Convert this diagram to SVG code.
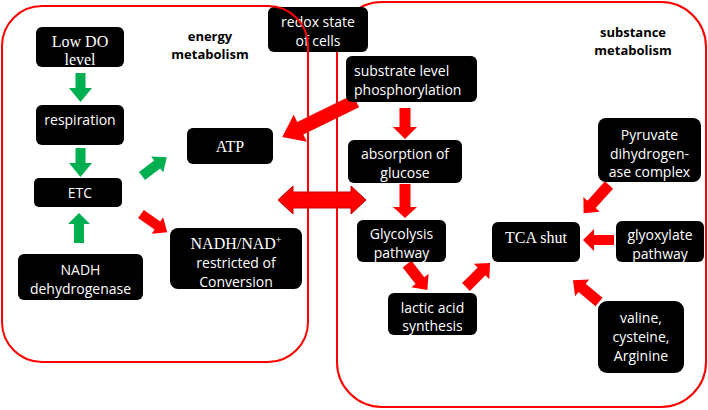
<svg xmlns="http://www.w3.org/2000/svg" width="708" height="410" viewBox="0 0 708 410">
<style>
.box{fill:#000}
.t{fill:#fff;font-family:"Open Sans","Noto Sans",sans-serif;font-size:14px;text-anchor:middle}
.s{fill:#fff;font-family:"Liberation Serif","Times New Roman",serif;font-size:16px;text-anchor:middle}
.lbl{fill:#000;font-family:"Open Sans","Noto Sans",sans-serif;font-size:13px;font-weight:bold;text-anchor:middle}
.cont{fill:none;stroke:#ff0000;stroke-width:2}
.g{fill:#00b050}
.r{fill:#ff0000}
</style>
<rect width="708" height="410" fill="#fff"/>
<g id="connectors">
<path class="g" transform="translate(80.5,73) rotate(90)" d="M0,-5H15V-11.5L29,0L15,11.5V5H0Z"/>
<path class="g" transform="translate(80.5,148) rotate(90)" d="M0,-5H15V-11.5L29,0L15,11.5V5H0Z"/>
<path class="g" transform="translate(79,243) rotate(-90)" d="M0,-5H19V-11L30,0L19,11V5H0Z"/>
<path class="g" transform="translate(142,176) rotate(-37)" d="M0,-5H19V-10L31,0L19,10V5H0Z"/>
<path class="r" transform="translate(141,214) rotate(35)" d="M0,-5H20V-10L32,0L20,10V5H0Z"/>
<path class="r" transform="translate(356,101) rotate(154)" d="M0,-7H62V-15L82,0L62,15V7H0Z"/>
<path class="r" stroke="#c00000" stroke-width="1" d="M278,200L293,186V192H351V186L366,200L351,214V208H293V214Z"/>
<path class="r" transform="translate(405,108) rotate(90)" d="M0,-5.5H19V-12L31,0L19,12V5.5H0Z"/>
<path class="r" transform="translate(405,184) rotate(90)" d="M0,-5.5H23V-12L34,0L23,12V5.5H0Z"/>
<path class="r" transform="translate(407,264) rotate(52)" d="M0,-5.5H21V-11L33,0L21,11V5.5H0Z"/>
<path class="r" transform="translate(466,287) rotate(-45)" d="M0,-5.5H22V-11L34,0L22,11V5.5H0Z"/>
<path class="r" transform="translate(609,185) rotate(132)" d="M0,-5.5H26V-11L38,0L26,11V5.5H0Z"/>
<path class="r" transform="translate(614,240) rotate(180)" d="M0,-5H20V-11L31,0L20,11V5H0Z"/>
<path class="r" transform="translate(599,302) rotate(-140)" d="M0,-5.5H22V-11L34,0L22,11V5.5H0Z"/>
</g>
<g id="substance-metabolism">
<rect class="cont" x="337" y="2" width="369" height="405" rx="45"/>
<text class="lbl" x="633" y="37">substance</text>
<text class="lbl" x="633" y="55">metabolism</text>
</g>
<g id="redox">
<rect class="box" x="268" y="7" width="100" height="45" rx="6"/>
<text class="t" x="318" y="27">redox state</text>
<text class="t" x="318" y="46">of cells</text>
</g>
<g id="energy-metabolism">
<rect class="cont" x="2" y="6" width="306" height="356" rx="40"/>
<text class="lbl" x="210" y="41">energy</text>
<text class="lbl" x="210" y="59">metabolism</text>
</g>
<g id="lowdo">
<rect class="box" x="36" y="27" width="88" height="40" rx="6"/>
<text class="s" x="80" y="47">Low DO</text>
<text class="s" x="80" y="65">level</text>
</g>
<g id="respiration">
<rect class="box" x="36" y="105" width="88" height="40" rx="6"/>
<text class="t" x="80" y="125">respiration</text>
</g>
<g id="etc">
<rect class="box" x="34" y="178" width="88" height="29" rx="5"/>
<text class="t" x="80" y="198">ETC</text>
</g>
<g id="nadh-dehydrogenase">
<rect class="box" x="18" y="254" width="125" height="46" rx="6"/>
<text class="t" x="80.5" y="275">NADH</text>
<text class="t" x="80.5" y="294">dehydrogenase</text>
</g>
<g id="atp">
<rect class="box" x="187" y="128" width="86" height="36" rx="6"/>
<text class="s" x="230" y="152">ATP</text>
</g>
<g id="nadh-nad">
<rect class="box" x="170" y="228" width="132" height="61" rx="8"/>
<text class="s" x="236" y="249">NADH/NAD<tspan font-size="10" dy="-6">+</tspan></text>
<text class="t" x="236" y="268">restricted of</text>
<text class="t" x="236" y="287">Conversion</text>
</g>
<g id="substrate-level">
<rect class="box" x="346" y="56" width="131" height="46" rx="6"/>
<text class="t" x="354" y="76" text-anchor="start" style="text-anchor:start">substrate level</text>
<text class="t" x="354" y="95" style="text-anchor:start">phosphorylation</text>
</g>
<g id="absorption">
<rect class="box" x="348" y="140" width="114" height="43" rx="6"/>
<text class="t" x="405" y="159">absorption of</text>
<text class="t" x="405" y="178">glucose</text>
</g>
<g id="pyruvate">
<rect class="box" x="598" y="118" width="103" height="64" rx="8"/>
<text class="t" x="649.5" y="140">Pyruvate</text>
<text class="t" x="649.5" y="159">dihydrogen-</text>
<text class="t" x="649.5" y="177">ase complex</text>
</g>
<g id="glycolysis">
<rect class="box" x="357" y="220" width="89" height="42" rx="6"/>
<text class="t" x="401.5" y="239">Glycolysis</text>
<text class="t" x="401.5" y="258">pathway</text>
</g>
<g id="tca">
<rect class="box" x="492" y="222" width="88" height="40" rx="6"/>
<text class="s" x="536" y="243">TCA shut</text>
</g>
<g id="glyoxylate">
<rect class="box" x="616" y="221" width="88" height="41" rx="6"/>
<text class="t" x="660" y="240">glyoxylate</text>
<text class="t" x="660" y="259">pathway</text>
</g>
<g id="lactic">
<rect class="box" x="388" y="293" width="89" height="42" rx="6"/>
<text class="t" x="432.5" y="313">lactic acid</text>
<text class="t" x="432.5" y="331">synthesis</text>
</g>
<g id="valine">
<rect class="box" x="598" y="301" width="86" height="72" rx="9"/>
<text class="t" x="641" y="323">valine,</text>
<text class="t" x="641" y="342">cysteine,</text>
<text class="t" x="641" y="361">Arginine</text>
</g>
</svg>
